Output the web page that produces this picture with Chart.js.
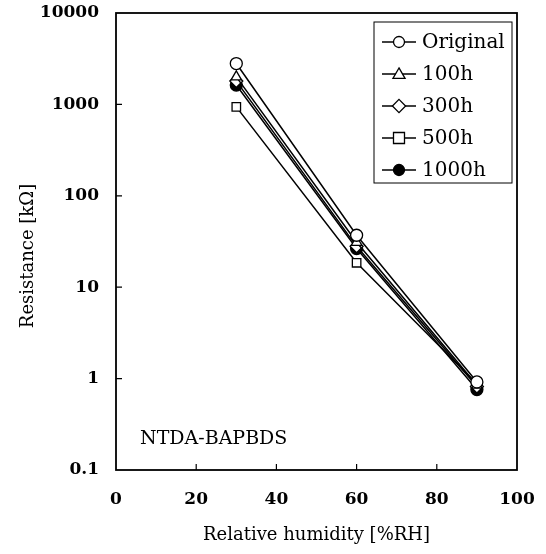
<!DOCTYPE html>
<html>
<head>
<meta charset="utf-8">
<script src="https://cdn.jsdelivr.net/npm/chart.js@4/dist/chart.umd.min.js"></script>
<style>
  html, body { margin: 0; padding: 0; background: #fff; }
  #wrap { width: 546px; height: 554px; }
</style>
</head>
<body>
<div id="wrap"><canvas id="chart" width="546" height="554"></canvas></div>
<script>
// data
const humidity = [30, 60, 90];
const seriesNames = ["Original", "100h", "300h", "500h", "1000h"];
const original = [2800, 37, 0.92];
const h100 = [2000, 31, 0.85];
const h300 = [1800, 28, 0.82];
const h500 = [940, 18.5, 0.88];
const h1000 = [1630, 26.5, 0.76];
const yTicks = [0.1, 1, 10, 100, 1000, 10000];
const xTicks = [0, 20, 40, 60, 80, 100];

const markers = ["circle", "triangle", "rectRot", "rect", "circle"];
const fills = ["#fff", "#fff", "#fff", "#fff", "#000"];
const values = [original, h100, h300, h500, h1000];

const serif = "'DejaVu Serif', serif";

function drawMarker(ctx, style, x, y, r, fill) {
  ctx.save();
  ctx.beginPath();
  if (style === "circle") {
    ctx.arc(x, y, r, 0, Math.PI * 2);
  } else if (style === "triangle") {
    ctx.moveTo(x, y - r * 1.1);
    ctx.lineTo(x + r * 1.1, y + r * 0.8);
    ctx.lineTo(x - r * 1.1, y + r * 0.8);
    ctx.closePath();
  } else if (style === "rectRot") {
    ctx.moveTo(x, y - r * 1.2);
    ctx.lineTo(x + r * 1.2, y);
    ctx.lineTo(x, y + r * 1.2);
    ctx.lineTo(x - r * 1.2, y);
    ctx.closePath();
  } else {
    ctx.rect(x - r, y - r, r * 2, r * 2);
  }
  ctx.fillStyle = fill;
  ctx.fill();
  ctx.lineWidth = 1.3;
  ctx.strokeStyle = "#000";
  ctx.stroke();
  ctx.restore();
}

// frame, inward ticks, y title, label, legend box
const decorations = {
  id: "decorations",
  afterDatasetsDraw(chart) {
    const ctx = chart.ctx;
    const a = chart.chartArea;
    const xs = chart.scales.x, ys = chart.scales.y;
    ctx.save();
    ctx.strokeStyle = "#000";
    ctx.lineWidth = 1.8;
    ctx.strokeRect(a.left, a.top, a.right - a.left, a.bottom - a.top);

    ctx.lineWidth = 1.2;
    ctx.beginPath();
    xTicks.slice(1, -1).forEach(v => {
      const px = xs.getPixelForValue(v);
      ctx.moveTo(px, a.bottom);
      ctx.lineTo(px, a.bottom - 6);
    });
    yTicks.slice(1, -1).forEach(v => {
      const py = ys.getPixelForValue(v);
      ctx.moveTo(a.left, py);
      ctx.lineTo(a.left + 6, py);
    });
    ctx.stroke();

    ctx.fillStyle = "#000";
    ctx.textBaseline = "middle";

    // y axis title, sits a little below the middle in the reference
    ctx.save();
    ctx.translate(28, 256);
    ctx.rotate(-Math.PI / 2);
    ctx.textAlign = "center";
    ctx.font = "18px " + serif;
    ctx.fillText("Resistance [kΩ]", 0, 0);
    ctx.restore();

    ctx.font = "19px " + serif;
    ctx.textAlign = "left";
    ctx.fillText("NTDA-BAPBDS", a.left + 24, a.bottom - 31);

    // legend
    const lx = 374, ly = 22, lw = 138, lh = 161;
    ctx.fillStyle = "#fff";
    ctx.fillRect(lx, ly, lw, lh);
    ctx.lineWidth = 1;
    ctx.strokeRect(lx, ly, lw, lh);
    ctx.font = "20px " + serif;
    seriesNames.forEach((name, i) => {
      const ry = ly + 20 + i * 32;
      ctx.beginPath();
      ctx.lineWidth = 1.5;
      ctx.moveTo(lx + 8, ry);
      ctx.lineTo(lx + 42, ry);
      ctx.stroke();
      drawMarker(ctx, markers[i], lx + 25, ry, 5.5, fills[i]);
      ctx.fillStyle = "#000";
      ctx.fillText(name, lx + 48, ry + 1);
    });
    ctx.restore();
  }
};

new Chart(document.getElementById("chart"), {
  type: "line",
  data: {
    datasets: seriesNames.map((name, i) => ({
      label: name,
      data: humidity.map((x, j) => ({ x: x, y: values[i][j] })),
      borderColor: "#000",
      borderWidth: 1.5,
      pointStyle: markers[i],
      pointRadius: markers[i] === "rectRot" ? 6.5 : 6,
      pointBackgroundColor: fills[i],
      pointBorderColor: "#000",
      pointBorderWidth: 1.3,
      tension: 0,
      fill: false
    }))
  },
  options: {
    responsive: false,
    animation: false,
    layout: { padding: { top: 13, right: 29, left: 0, bottom: 0 } },
    plugins: {
      legend: { display: false },
      tooltip: { enabled: false }
    },
    scales: {
      x: {
        type: "linear",
        min: 0,
        max: 100,
        afterFit: s => {
          s.height = 84;
          s.paddingLeft = 0;
          s.paddingRight = 0;
        },
        afterBuildTicks: s => { s.ticks = xTicks.map(v => ({ value: v })); },
        grid: { display: false, drawTicks: false },
        border: { display: false },
        ticks: {
          padding: 19,
          color: "#000",
          font: { family: serif, size: 17, weight: "bold" }
        },
        title: {
          display: true,
          text: "Relative humidity [%RH]",
          color: "#000",
          font: { family: serif, size: 18 },
          padding: { top: 0, bottom: 8 }
        }
      },
      y: {
        type: "logarithmic",
        min: 0.1,
        max: 10000,
        afterFit: s => {
          s.width = 116;
          s.paddingTop = 0;
          s.paddingBottom = 0;
        },
        afterBuildTicks: s => { s.ticks = yTicks.map(v => ({ value: v })); },
        grid: { display: false, drawTicks: false },
        border: { display: false },
        ticks: {
          padding: 17,
          color: "#000",
          font: { family: serif, size: 17, weight: "bold" },
          callback: v => String(v)
        },
        title: { display: false }
      }
    }
  },
  plugins: [decorations]
});
</script>
</body>
</html>
